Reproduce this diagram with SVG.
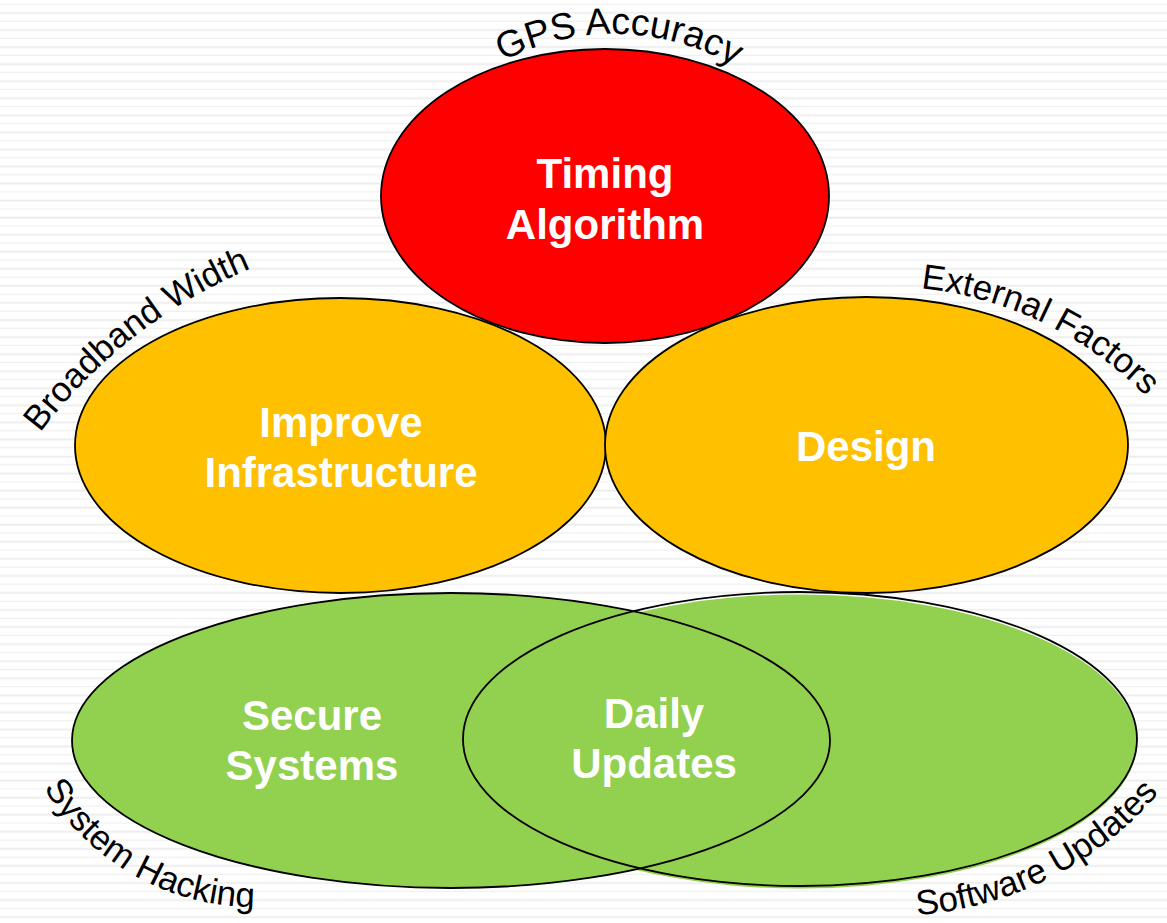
<svg xmlns="http://www.w3.org/2000/svg" width="1167" height="923" viewBox="0 0 1167 923">
  <defs>
    <pattern id="ruled" x="0" y="0" width="1167" height="17.06" patternUnits="userSpaceOnUse">
      <rect x="0" y="3.6" width="1167" height="1.2" fill="#efefef"/>
      <rect x="0" y="12" width="1167" height="1.8" fill="#ececec"/>
    </pattern>
    <!-- baselines for the curved captions -->
    <path id="arc-gps" d="M 410.5 146.8 A 240 240 0 0 1 825.9 161.3"/>
    <path id="arc-broadband" d="M -25.5 549.6 A 510 510 0 0 1 375.3 234.2"/>
    <path id="arc-external" d="M 821.4 290.9 A 372 372 0 0 1 1205.9 475.9"/>
    <path id="arc-hacking" d="M 32.1 766.3 A 247 247 0 0 0 278.7 905.9"/>
    <path id="arc-software" d="M 871.3 915.4 A 353 353 0 0 0 1186.4 756.3"/>
  </defs>
  <style>
    .outline { stroke: #000000; stroke-width: 1.8; }
    .red { fill: #ff0000; }
    .amber { fill: #ffc000; }
    .green { fill: #92d050; }
    .title { font-family: "Liberation Sans", Arial, sans-serif; font-weight: bold; font-size: 42px; fill: #ffffff; text-anchor: middle; }
    .caption { font-family: "Liberation Sans", Arial, sans-serif; font-size: 35px; fill: #000000; text-anchor: middle; }
    .caption.large { font-size: 37.5px; }
  </style>

  <rect x="0" y="0" width="1167" height="923" fill="#ffffff"/>
  <rect x="0" y="0" width="1167" height="923" fill="url(#ruled)"/>

  <g id="timing-algorithm">
    <ellipse class="red outline" cx="605" cy="196" rx="224" ry="147"/>
    <text class="title"><tspan x="605" y="188">Timing</tspan><tspan x="605" y="239">Algorithm</tspan></text>
    <text class="caption large"><textPath href="#arc-gps" startOffset="248">GPS Accuracy</textPath></text>
  </g>

  <g id="improve-infrastructure">
    <ellipse class="amber outline" cx="340.5" cy="445.5" rx="265.5" ry="147.5"/>
    <text class="title"><tspan x="341" y="437">Improve</tspan><tspan x="341" y="487">Infrastructure</tspan></text>
    <text class="caption"><textPath href="#arc-broadband" startOffset="50.5%">Broadband Width</textPath></text>
  </g>

  <g id="design">
    <ellipse class="amber outline" cx="866.5" cy="445" rx="261.5" ry="148"/>
    <text class="title" x="866" y="461">Design</text>
    <text class="caption"><textPath href="#arc-external" startOffset="50%">External Factors</textPath></text>
  </g>

  <g id="secure-systems">
    <ellipse class="green" cx="800" cy="741.5" rx="337" ry="147"/>
    <ellipse class="green" cx="451" cy="740.5" rx="379" ry="147.5"/>
    <ellipse class="outline" fill="none" cx="451" cy="740.5" rx="379" ry="147.5"/>
    <text class="title"><tspan x="312" y="730">Secure</tspan><tspan x="312" y="780">Systems</tspan></text>
    <text class="caption"><textPath href="#arc-hacking" startOffset="50%">System Hacking</textPath></text>
  </g>

  <g id="daily-updates">
    <ellipse class="outline" fill="none" cx="800" cy="739" rx="337" ry="147"/>
    <text class="title"><tspan x="654" y="728">Daily</tspan><tspan x="654" y="778">Updates</tspan></text>
    <text class="caption"><textPath href="#arc-software" startOffset="50%">Software Updates</textPath></text>
  </g>

  <g id="connectors"></g>
</svg>
